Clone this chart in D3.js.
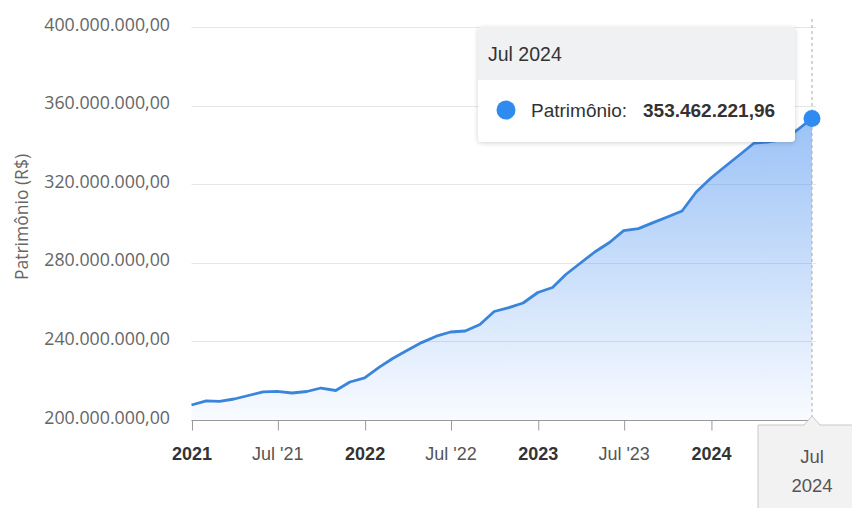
<!DOCTYPE html>
<html><head><meta charset="utf-8">
<script src="https://cdn.jsdelivr.net/npm/d3@7"></script>
<style>
html,body{margin:0;padding:0;background:#fff;}
svg{display:block;}
</style></head>
<body>
<svg id="c" width="852" height="508"></svg>
<script>
// ---- data (month-end values, millions of R$) ----
const dates = ["2020-12-31","2021-01-31","2021-02-28","2021-03-31","2021-04-30","2021-05-31","2021-06-30","2021-07-31","2021-08-31","2021-09-30","2021-10-31","2021-11-30",
"2021-12-31","2022-01-31","2022-02-28","2022-03-31","2022-04-30","2022-05-31","2022-06-30","2022-07-31","2022-08-31","2022-09-30","2022-10-31","2022-11-30",
"2022-12-31","2023-01-31","2023-02-28","2023-03-31","2023-04-30","2023-05-31","2023-06-30","2023-07-31","2023-08-31","2023-09-30","2023-10-31","2023-11-30",
"2023-12-31","2024-01-31","2024-02-29","2024-03-31","2024-04-30","2024-05-31","2024-06-30","2024-07-31"];
const patrimonio = [207.63,209.77,209.52,210.69,212.47,214.35,214.61,213.74,214.50,216.28,215.01,219.34,
221.48,226.87,231.30,235.52,239.39,242.65,244.78,245.29,248.60,255.22,257.20,259.54,
264.89,267.43,274.05,279.90,285.50,290.33,296.34,297.40,300.46,303.31,306.36,316.03,
323.16,329.26,334.86,340.97,341.48,342.75,347.58,353.46222196];
const yTicks = [200,240,280,320,360,400];
const xTickDates = ["2021-01-01","2021-07-01","2022-01-01","2022-07-01","2023-01-01","2023-07-01","2024-01-01"];
const tooltipTitle = "Jul 2024";
const seriesName = "Patrimônio";
const yTitle = "Patrimônio (R$)";

const parse = d3.utcParse("%Y-%m-%d");
const data = dates.map((d,i)=>({date:parse(d), value:patrimonio[i]*1e6}));

const loc = d3.formatLocale({decimal:",",thousands:".",grouping:[3],currency:["R$",""]});
const fmt = loc.format(",.2f");

const svg = d3.select("#c");
const L=191.5, R=812, T=27, B=420;
const x = d3.scaleUtc().domain([data[0].date, data[data.length-1].date]).range([L,R]);
const y = d3.scaleLinear().domain([200e6,400e6]).range([B,T]);
const yt = yTicks.map(v=>v*1e6);
const SANS = "Liberation Sans, Arial, Helvetica";

const defs = svg.append("defs");
const g = defs.append("linearGradient").attr("id","ga")
  .attr("gradientUnits","userSpaceOnUse").attr("x1",0).attr("y1",T).attr("x2",0).attr("y2",B);
g.append("stop").attr("offset","0%").attr("stop-color","#2f80ed").attr("stop-opacity",0.62);
g.append("stop").attr("offset","100%").attr("stop-color","#2f80ed").attr("stop-opacity",0.03);
const sh = defs.append("filter").attr("id","sh").attr("x","-10%").attr("y","-10%").attr("width","120%").attr("height","130%");
sh.append("feDropShadow").attr("dx",0).attr("dy",1).attr("stdDeviation",2.5).attr("flood-color","#000").attr("flood-opacity",0.18);

// grid
svg.append("g").selectAll("line").data(yt).join("line")
  .attr("x1",L).attr("x2",R+4).attr("y1",d=>Math.round(y(d))+0.5).attr("y2",d=>Math.round(y(d))+0.5)
  .attr("stroke","#e6e6e6").attr("stroke-width",1);

// y labels
svg.append("g").selectAll("text").data(yt).join("text")
  .attr("x",170).attr("y",d=>y(d)+3.5).attr("text-anchor","end")
  .attr("font-family","Open Sans").attr("font-size",17.8).attr("fill","#666")
  .text(d=>fmt(d));
svg.append("text").attr("transform","translate(28,217) rotate(-90)").attr("text-anchor","middle")
  .attr("font-family","Open Sans").attr("font-size",17.5).attr("fill","#666").text(yTitle);

// area + line
const area = d3.area().x(d=>x(d.date)).y0(B).y1(d=>y(d.value));
const line = d3.line().x(d=>x(d.date)).y(d=>y(d.value));
svg.append("path").datum(data).attr("d",area).attr("fill","url(#ga)");
svg.append("path").datum(data).attr("d",line).attr("fill","none").attr("stroke","#3a84dc").attr("stroke-width",2.8).attr("stroke-linejoin","round");

// x axis
const xt = xTickDates.map(parse);
const ax = svg.append("g").attr("transform",`translate(0,${B+0.5})`)
  .call(d3.axisBottom(x).tickValues(xt).tickSize(10).tickFormat(""));
ax.select(".domain").attr("stroke","#999").attr("d",`M${L},0H${R+4}`);
ax.selectAll(".tick line").attr("stroke","#999");
svg.append("g").selectAll("text").data(xt).join("text")
  .attr("x",d=>x(d)).attr("y",460).attr("text-anchor","middle")
  .attr("font-family",SANS).attr("font-size",18)
  .attr("font-weight",d=>d.getUTCMonth()===0?"bold":"normal")
  .attr("fill",d=>d.getUTCMonth()===0?"#333":"#555")
  .text(d=>d.getUTCMonth()===0?d.getUTCFullYear():"Jul '"+String(d.getUTCFullYear()).slice(2));

// crosshair
const last = data[data.length-1];
const cx = x(last.date), cy = y(last.value);
svg.append("line").attr("x1",cx).attr("x2",cx).attr("y1",T-8).attr("y2",B)
  .attr("stroke","#aaa").attr("stroke-dasharray","3,3").attr("stroke-width",1);
svg.append("circle").attr("cx",cx).attr("cy",cy).attr("r",8.5).attr("fill","#2f8bef");

// crosshair label box
svg.append("path").attr("d",`M${cx-54},${B+5}H${cx-8}L${cx},${B-4}L${cx+8},${B+5}H${cx+60}V510H${cx-54}Z`)
  .attr("fill","#f2f2f2").attr("stroke","#c8c8c8").attr("stroke-width",1);
svg.append("text").attr("x",cx).attr("y",463).attr("text-anchor","middle")
  .attr("font-family",SANS).attr("font-size",18.5).attr("fill","#555").text("Jul");
svg.append("text").attr("x",cx).attr("y",492).attr("text-anchor","middle")
  .attr("font-family",SANS).attr("font-size",18.5).attr("fill","#555").text(String(last.date.getUTCFullYear()));

// tooltip
const tx=478, ty=27, tw=317, th=115;
const tg = svg.append("g");
tg.append("rect").attr("x",tx).attr("y",ty).attr("width",tw).attr("height",th).attr("rx",4).attr("fill","#fff").attr("filter","url(#sh)");
tg.append("path").attr("d",`M${tx},${ty+53}V${ty+4}Q${tx},${ty} ${tx+4},${ty}H${tx+tw-4}Q${tx+tw},${ty} ${tx+tw},${ty+4}V${ty+53}Z`).attr("fill","#f0f1f3");
tg.append("text").attr("x",tx+10).attr("y",ty+34).attr("font-family",SANS).attr("font-size",19.5).attr("fill","#333").text(tooltipTitle);
tg.append("circle").attr("cx",tx+28).attr("cy",ty+83).attr("r",9.5).attr("fill","#2f8bef");
const tt = tg.append("text").attr("x",tx+53).attr("y",ty+90).attr("font-family",SANS).attr("font-size",19).attr("fill","#333");
tt.append("tspan").text(seriesName+":");
tt.append("tspan").attr("x",tx+165).attr("font-weight","bold").text(fmt(last.value));
</script>
</body></html>
